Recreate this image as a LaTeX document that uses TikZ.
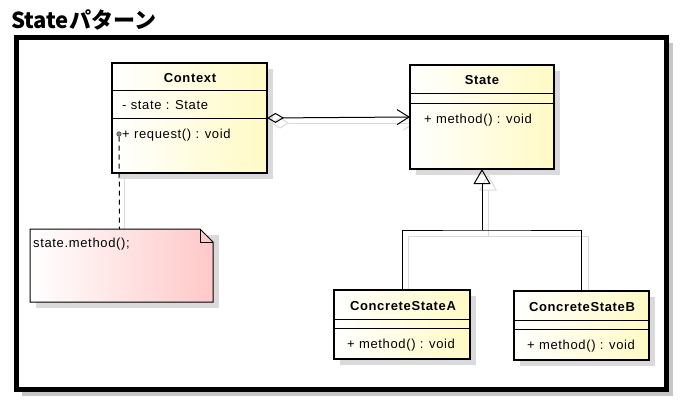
\documentclass[tikz,border=0pt]{standalone}
\usepackage{fontspec}
\setmainfont{Liberation Sans}
\newfontfamily\umlfont{Liberation Sans}[LetterSpace=5]
\newfontfamily\jpfont{Noto Sans CJK JP}
\usetikzlibrary{arrows.meta,calc}
\definecolor{ylw}{RGB}{255,250,196}
\definecolor{pnk}{RGB}{255,200,200}
\definecolor{shd}{RGB}{218,218,218}
\begin{document}
\begin{tikzpicture}[x=1pt,y=-1pt,
  cls/.style={draw=black, line width=2pt, left color=white, right color=ylw,
              inner sep=0, outer sep=0, anchor=north west},
  shadowbox/.style={fill=shd},
  shadowline/.style={draw=shd, line width=1pt},
  sepline/.style={draw=black, line width=1pt},
  txt/.style={font=\umlfont\fontsize{13}{15}\selectfont, inner sep=0},
  nametxt/.style={font=\umlfont\bfseries\fontsize{13}{15}\selectfont, inner sep=0},
  conn/.style={draw=black, line width=1pt},
]
\useasboundingbox (0,0) rectangle (681,408);

% title
\node[anchor=base west, inner sep=0, font=\jpfont\bfseries\fontsize{22}{24}\selectfont] (title) at (11,28) {Stateパターン};

% frame with shadow
\draw[black!22, line width=4pt] (671,43) -- (671,394) -- (22,394);
\draw[line width=5pt] (16.5,37.5) rectangle (666.5,389.5);

% ---------- shadows ----------
\fill[shadowbox] (117.5,69) rectangle (273,179);
\fill[shadowbox] (416,71) rectangle (560,175);
\fill[shadowbox] (340,296) rectangle (476,365);
\fill[shadowbox] (520,297) rectangle (655,366);
\fill[shadowbox] (36,235) rectangle (219,308);
% connector shadows
\draw[shadowline] (124,140) -- (124,229);
\draw[shadowline] (288,123) -- (415,123);
\draw[shadowline] (272,123) -- (280,118) -- (288,123) -- (280,128) -- cycle;
\draw[shadowline] (403,116) -- (415,123) -- (403,130);
\draw[shadowline] (488,175) -- (480,190) -- (496,190) -- cycle;
\draw[shadowline] (488,190) -- (488,236);
\draw[shadowline] (408,296) -- (408,236) -- (588,236) -- (588,297);

% ---------- Context ----------
\node[cls, minimum width=155.5pt, minimum height=110pt] (ctx) at (111.5,63) {};
\draw[sepline] ($(ctx.north west)+(0,27)$) -- ($(ctx.north east)+(0,27)$);
\draw[sepline] ($(ctx.north west)+(0,55)$) -- ($(ctx.north east)+(0,55)$);
\node[nametxt, anchor=base] (ctxname) at (190,82) {Context};
\node[txt, anchor=base west] (ctxattr) at (122,109) {- state : State};
\node[txt, anchor=base west] (ctxop) at (122,138) {+ request() : void};

% ---------- State ----------
\node[cls, minimum width=144pt, minimum height=104pt] (st) at (410,65) {};
\draw[sepline] ($(st.north west)+(0,28)$) -- ($(st.north east)+(0,28)$);
\draw[sepline] ($(st.north west)+(0,38)$) -- ($(st.north east)+(0,38)$);
\node[nametxt, anchor=base] (stname) at (482,84) {State};
\node[txt, anchor=base west] (stop) at (424,123) {+ method() : void};

% ---------- ConcreteStateA ----------
\node[cls, minimum width=136pt, minimum height=69pt] (csa) at (334,290) {};
\draw[sepline] ($(csa.north west)+(0,29)$) -- ($(csa.north east)+(0,29)$);
\draw[sepline] ($(csa.north west)+(0,38)$) -- ($(csa.north east)+(0,38)$);
\node[nametxt, anchor=base] (csaname) at (403,310) {ConcreteStateA};
\node[txt, anchor=base west] (csaop) at (347,348) {+ method() : void};

% ---------- ConcreteStateB ----------
\node[cls, minimum width=135pt, minimum height=69pt] (csb) at (514,291) {};
\draw[sepline] ($(csb.north west)+(0,29)$) -- ($(csb.north east)+(0,29)$);
\draw[sepline] ($(csb.north west)+(0,38)$) -- ($(csb.north east)+(0,38)$);
\node[nametxt, anchor=base] (csbname) at (582,311) {ConcreteStateB};
\node[txt, anchor=base west] (csbop) at (527,349) {+ method() : void};

% ---------- Note ----------
\path[draw=black, line width=1pt, left color=white, right color=pnk]
  (30,229) -- (200,229) -- (213,242) -- (213,302) -- (30,302) -- cycle;
\draw[line width=1pt] (200,229) -- (200,242) -- (213,242);
\coordinate (notetop) at (119.5,229);
\node[txt, anchor=base west] (notetxt) at (33,247) {state.method();};

% ---------- connectors ----------
\node[circle, fill=black!45, draw=black!70, line width=0.6pt, inner sep=0, minimum size=4.5pt] (reqdot) at (119,134) {};
\draw[conn, dash pattern=on 5pt off 4pt] (reqdot) -- (notetop);

\draw[conn, {Diamond[open, length=17pt, width=10pt, line width=1pt]}-{Straight Barb[length=12pt, width=15pt, line width=1pt]}]
  (ctx.east) -- (st.west);

\coordinate (junction) at (482,230);
\draw[conn, -{Triangle[open, length=15pt, width=17pt, line width=1pt]}] (junction) -- (st.south);
\draw[conn] (csa.north) |- (junction) -| (csb.north);
\end{tikzpicture}
\end{document}
